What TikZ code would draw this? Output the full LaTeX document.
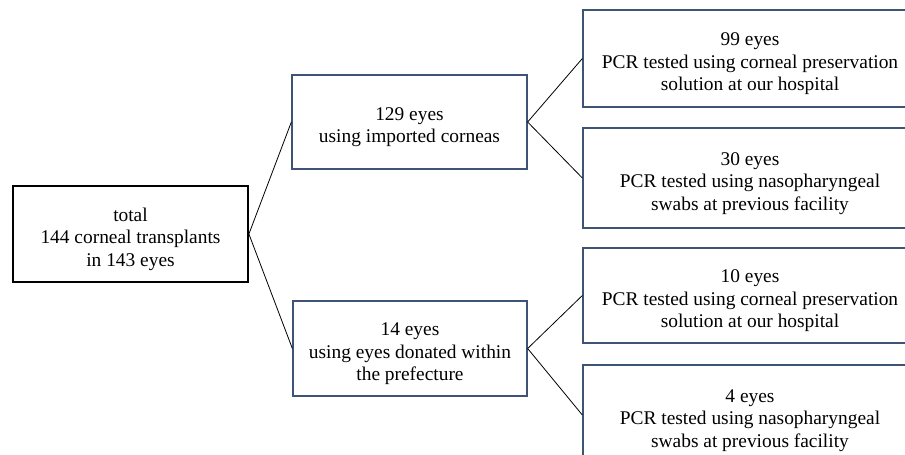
\documentclass[tikz,border=0pt]{standalone}
\usepackage{fontspec}
\setmainfont{Liberation Serif}
\definecolor{boxblue}{HTML}{3F5377}
\newcommand\lowtxt[1]{\raisebox{-5pt}[\height][\depth]{\begin{tabular}{@{}c@{}}#1\end{tabular}}}
\begin{document}
\begin{tikzpicture}[x=1pt,y=-1pt,
  box/.style={draw=boxblue, line width=1.3pt, fill=white,
    font=\fontsize{19.4}{22.5}\selectfont, inner sep=0pt, rectangle},
  link/.style={draw=black, line width=0.8pt}]
\useasboundingbox (0,0) rectangle (905,455);
\clip (0,0) rectangle (905,455);
\node[box, draw=black, line width=1.8pt, minimum width=235pt, minimum height=96pt] (L) at (130.5,234)
  {\lowtxt{total\\144 corneal transplants\\in 143 eyes}};
\node[box, minimum width=235pt, minimum height=94pt] (M1) at (409.5,122)
  {\lowtxt{129 eyes\\using imported corneas}};
\node[box, minimum width=234pt, minimum height=95pt] (M2) at (410,348.5)
  {\lowtxt{14 eyes\\using eyes donated within\\the prefecture}};
\node[box, minimum width=334pt, minimum height=97pt] (R1) at (750,58.5)
  {\lowtxt{99 eyes\\PCR tested using corneal preservation\\solution at our hospital}};
\node[box, minimum width=334pt, minimum height=100pt] (R2) at (750,178)
  {\lowtxt{30 eyes\\PCR tested using nasopharyngeal\\swabs at previous facility}};
\node[box, minimum width=334pt, minimum height=95pt] (R3) at (750,295.5)
  {\lowtxt{10 eyes\\PCR tested using corneal preservation\\solution at our hospital}};
\node[box, minimum width=334pt, minimum height=100pt] (R4) at (750,415)
  {\lowtxt{4 eyes\\PCR tested using nasopharyngeal\\swabs at previous facility}};
\draw[link] (L.east) -- (M1.west);
\draw[link] (L.east) -- (M2.west);
\draw[link] (M1.east) -- (R1.west);
\draw[link] (M1.east) -- (R2.west);
\draw[link] (M2.east) -- (R3.west);
\draw[link] (M2.east) -- (R4.west);
\end{tikzpicture}
\end{document}
